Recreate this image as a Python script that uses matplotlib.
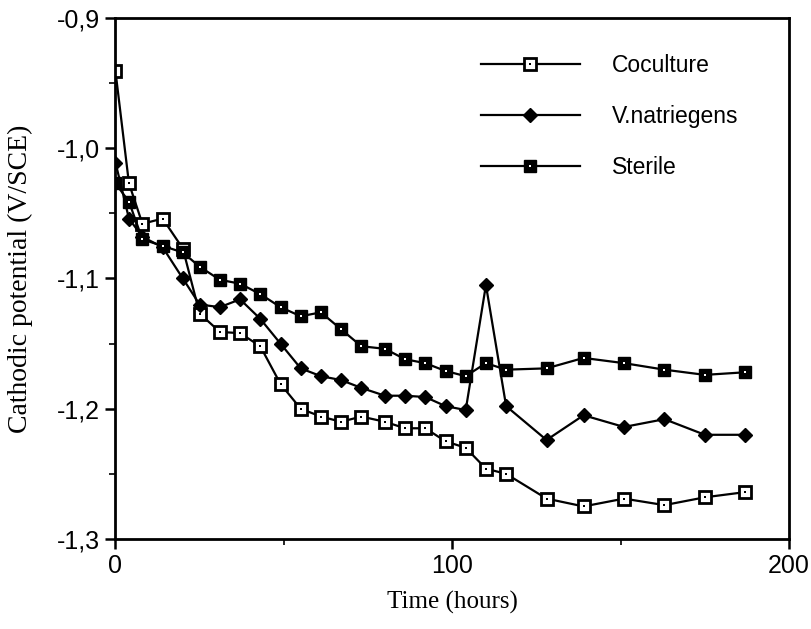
import matplotlib
matplotlib.use("Agg")
import matplotlib.pyplot as plt
from matplotlib.ticker import MultipleLocator, FixedLocator
from matplotlib.legend_handler import HandlerTuple

# time (hours) and cathodic potential (V/SCE)
time_cocult = [0, 4, 8, 14, 20, 25, 31, 37, 43, 49, 55, 61, 67, 73, 80, 86, 92, 98,
               104, 110, 116, 128, 139, 151, 163, 175, 187]
coculture = [-0.941, -1.027, -1.058, -1.054, -1.077, -1.127, -1.141, -1.142, -1.152,
             -1.181, -1.200, -1.206, -1.210, -1.206, -1.210, -1.215, -1.215, -1.225,
             -1.230, -1.246, -1.250, -1.269, -1.275, -1.269, -1.274, -1.268, -1.264]

time_vn = [0, 4, 8, 14, 20, 25, 31, 37, 43, 49, 55, 61, 67, 73, 80, 86, 92, 98,
           104, 110, 116, 128, 139, 151, 163, 175, 187]
vnatriegens = [-1.011, -1.054, -1.068, -1.076, -1.100, -1.120, -1.122, -1.116, -1.131,
               -1.150, -1.169, -1.175, -1.178, -1.184, -1.190, -1.190, -1.191, -1.198,
               -1.201, -1.105, -1.198, -1.224, -1.205, -1.214, -1.208, -1.220, -1.220]

time_sterile = [0, 4, 8, 14, 20, 25, 31, 37, 43, 49, 55, 61, 67, 73, 80, 86, 92, 98,
                104, 110, 116, 128, 139, 151, 163, 175, 187]
sterile = [-1.027, -1.041, -1.070, -1.075, -1.080, -1.091, -1.101, -1.104, -1.112,
           -1.122, -1.129, -1.126, -1.139, -1.152, -1.154, -1.162, -1.165, -1.171,
           -1.175, -1.165, -1.170, -1.169, -1.161, -1.165, -1.170, -1.174, -1.172]

yticks = [-1.3, -1.2, -1.1, -1.0, -0.9]
ytick_labels = ["-1,3", "-1,2", "-1,1", "-1,0", "-0,9"]
xticks = [0, 100, 200]

fig = plt.figure(figsize=(8.11, 6.29), dpi=100)
ax = fig.add_axes([0.1424, 0.1431, 0.8305, 0.8283])

lw = 1.6
# Coculture: open squares with a dot in the middle
l1, = ax.plot(time_cocult, coculture, color="black", lw=lw, marker="s", ms=8.5,
              mfc="white", mec="black", mew=2.0)
d1, = ax.plot(time_cocult, coculture, ls="none", marker="s", ms=2.0, mew=0,
              color="black")
# V.natriegens: filled diamonds
l2, = ax.plot(time_vn, vnatriegens, color="black", lw=lw, marker="D", ms=7.5,
              mfc="black", mec="black")
# Sterile: filled squares with a small white dot
l3, = ax.plot(time_sterile, sterile, color="black", lw=lw, marker="s", ms=9,
              mfc="black", mec="black")
d3, = ax.plot(time_sterile, sterile, ls="none", marker="s", ms=1.8, mew=0,
              color="white")

ax.set_xlim(0, 200)
ax.set_ylim(-1.3, -0.9)
ax.xaxis.set_major_locator(FixedLocator(xticks))
ax.xaxis.set_minor_locator(MultipleLocator(50))
ax.set_yticks(yticks)
ax.set_yticklabels(ytick_labels)
ax.yaxis.set_minor_locator(MultipleLocator(0.05))
ax.tick_params(which="major", direction="out", length=7, width=1.8,
               labelsize=18, pad=4)
ax.tick_params(which="minor", direction="out", length=4, width=1.2)
for lab in ax.get_xticklabels() + ax.get_yticklabels():
    lab.set_family("Liberation Sans")
for s in ax.spines.values():
    s.set_linewidth(2.0)

ax.set_xlabel("Time (hours)", family="Liberation Serif", fontsize=18, labelpad=9)
ax.set_ylabel("Cathodic potential (V/SCE)", family="Liberation Serif", fontsize=20,
              labelpad=17)

leg = ax.legend([(l1, d1), (l2,), (l3, d3)], ["Coculture", "V.natriegens", "Sterile"],
                handler_map={tuple: HandlerTuple(ndivide=1)},
                loc="upper left", bbox_to_anchor=(0.543, 0.93), frameon=False,
                borderaxespad=0, borderpad=0, numpoints=1, handlelength=4.3,
                handletextpad=1.4, labelspacing=1.22,
                prop={"family": "Liberation Sans", "size": 16.5})

fig.savefig("out.png", dpi=100)
